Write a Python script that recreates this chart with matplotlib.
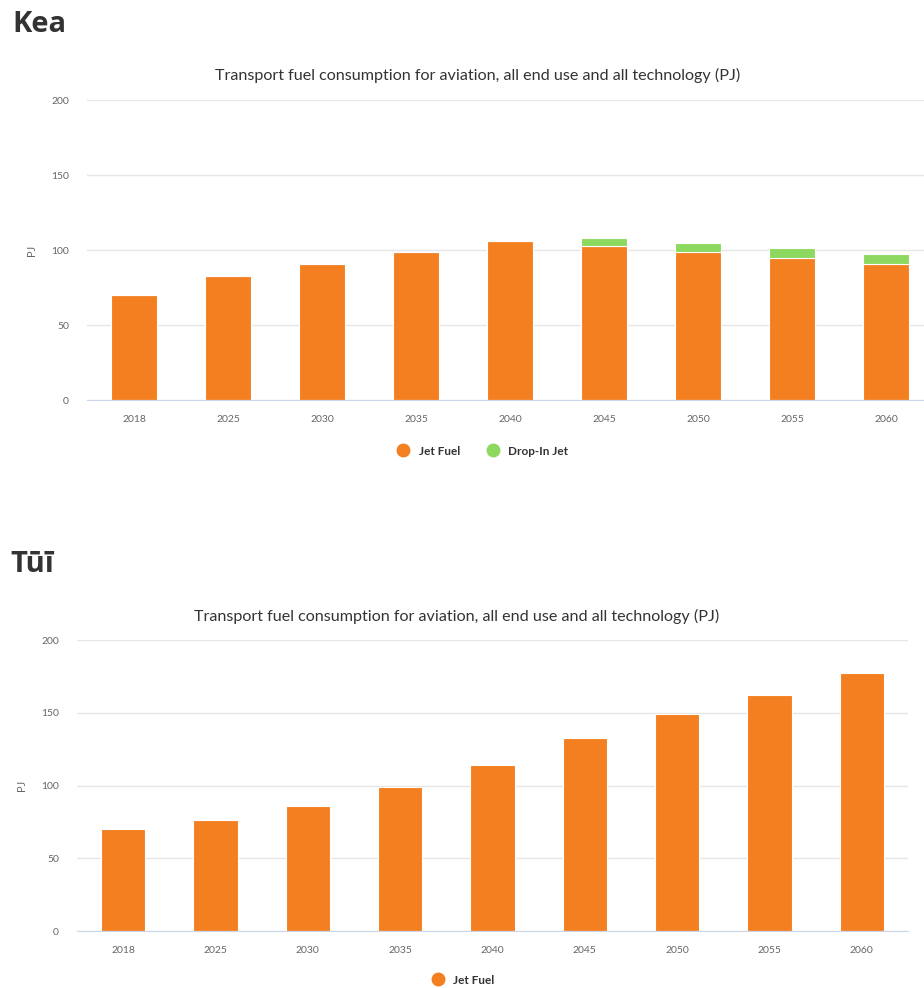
import matplotlib.pyplot as plt
from matplotlib.lines import Line2D
import numpy as np

years = ["2018", "2025", "2030", "2035", "2040", "2045", "2050", "2055", "2060"]

# Kea scenario
kea_jet = [70, 83, 91, 99, 106, 102.5, 98.5, 94.5, 91]
kea_dropin = [0, 0, 0, 0, 0, 5.5, 6.3, 6.6, 6.4]

# Tui scenario
tui_jet = [70, 76, 86, 99, 114, 132.5, 149, 162, 177]

orange = "#f47f20"
green = "#8dd95f"
grid_col = "#e6e6e6"
tick_col = "#666666"
text_col = "#333333"

W, H = 924, 988
plt.rcParams["font.family"] = ["Lato", "DejaVu Sans"]

fig = plt.figure(figsize=(W / 100, H / 100), dpi=100)


def px_axes(x0, y0, x1, y1):
    # pixel box (top-left origin) -> figure fraction
    return fig.add_axes([x0 / W, 1 - y1 / H, (x1 - x0) / W, (y1 - y0) / H])


def style_axes(ax):
    ax.set_ylim(0, 200)
    ax.set_yticks([0, 50, 100, 150, 200])
    ax.set_xlim(-0.5, len(years) - 0.5)
    ax.set_xticks(np.arange(len(years)))
    ax.set_xticklabels(years)
    ax.grid(axis="y", color=grid_col, lw=1)
    ax.set_axisbelow(True)
    for s in ["top", "right", "left"]:
        ax.spines[s].set_visible(False)
    ax.spines["bottom"].set_color("#ccd6eb")
    ax.tick_params(axis="both", length=0, labelsize=7.5, colors=tick_col)
    ax.tick_params(axis="x", pad=11)
    ax.tick_params(axis="y", pad=13)
    ax.set_ylabel("PJ", fontsize=8, color=tick_col, labelpad=10)


x = np.arange(len(years))
title = "Transport fuel consumption for aviation, all end use and all technology (PJ)"

# ---- Kea ----
fig.text(12 / W, 1 - 24 / H, "Kea", fontsize=21, fontweight="bold",
         family="Open Sans", color=text_col, va="center")
fig.text(478 / W, 1 - 75 / H, title,
         fontsize=11.6, color=text_col, ha="center", va="center")
ax1 = px_axes(87, 100, 933, 400)
style_axes(ax1)
ax1.bar(x, kea_jet, width=0.48, color=orange, edgecolor="white", lw=0.8)
ax1.bar(x, kea_dropin, width=0.48, bottom=kea_jet, color=green,
        edgecolor="white", lw=0.8)

handles = [
    Line2D([], [], marker="o", ls="", color=orange, markersize=9),
    Line2D([], [], marker="o", ls="", color=green, markersize=9),
]
fig.legend(handles, ["Jet Fuel", "Drop-In Jet"], loc="center",
           bbox_to_anchor=(480 / W, 1 - 451 / H), ncol=2, frameon=False,
           prop={"size": 8.5, "weight": "bold"}, labelcolor=text_col,
           handletextpad=0.3, columnspacing=1.8)

# ---- Tui ----
fig.text(10 / W, 1 - 565 / H, "Tūī", fontsize=21, fontweight="bold",
         family="Open Sans", color=text_col, va="center")
fig.text(457 / W, 1 - 616 / H, title,
         fontsize=11.6, color=text_col, ha="center", va="center")
ax2 = px_axes(77, 640, 908, 931)
style_axes(ax2)
ax2.bar(x, tui_jet, width=0.48, color=orange, edgecolor="white", lw=0.8)

fig.legend(handles[:1], ["Jet Fuel"], loc="center",
           bbox_to_anchor=(460 / W, 1 - 980 / H), frameon=False,
           prop={"size": 8.5, "weight": "bold"}, labelcolor=text_col,
           handletextpad=0.3)

fig.savefig("out.png", dpi=100, facecolor="white")
